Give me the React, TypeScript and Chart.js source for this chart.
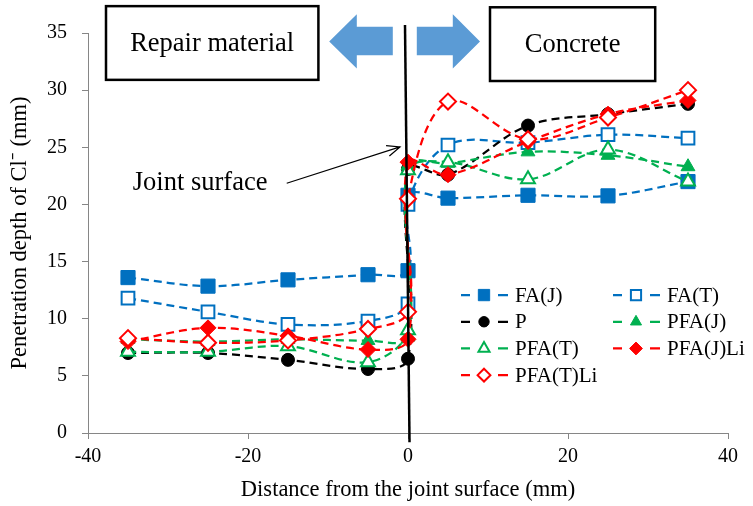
import React, { useEffect, useRef } from 'react';
import { Chart, registerables } from 'chart.js';
import { drawPoint } from 'chart.js/helpers';

Chart.register(...registerables);

// ---------- data ----------
const distances = [-35, -25, -15, -5, 0, 0, 5, 15, 25, 35];
const faJ = [13.6, 12.85, 13.4, 13.85, 14.2, 20.8, 20.55, 20.8, 20.75, 22.0];
const faT = [11.8, 10.6, 9.5, 9.8, 11.3, 20.0, 25.2, 25.4, 26.1, 25.8];
const pSeries = [7.0, 7.0, 6.4, 5.6, 6.5, 23.1, 22.6, 26.9, 27.9, 28.8];
const pfaJ = [8.2, 8.0, 8.2, 8.1, 8.4, 23.4, 23.6, 24.6, 24.3, 23.3];
const pfaT = [7.1, 7.1, 7.6, 6.2, 9.0, 23.0, 23.7, 22.2, 24.8, 22.0];
const pfaJLi = [8.0, 9.2, 8.5, 7.3, 8.2, 23.7, 22.6, 25.5, 27.9, 29.1];
const pfaTLi = [8.3, 7.9, 8.1, 9.1, 10.6, 20.5, 29.0, 25.7, 27.6, 30.0];

const seriesNames = ['FA(J)', 'FA(T)', 'P', 'PFA(J)', 'PFA(T)', 'PFA(J)Li', 'PFA(T)Li'];
const xTicks = [-40, -20, 0, 20, 40];
const yTicks = [0, 5, 10, 15, 20, 25, 30, 35];

const xTitle = 'Distance from the joint surface (mm)';
const yTitle = 'Penetration depth of Cl\u207B (mm)';
const leftBoxText = 'Repair material';
const rightBoxText = 'Concrete';
const jointText = 'Joint surface';

const SERIF = '"Liberation Serif", "Times New Roman", serif';
const BLUE = '#0070C0';
const GREEN = '#00B050';
const RED = '#FF0000';
const BLACK = '#000000';
const ARROW_BLUE = '#5B9BD5';

function makeDataset(label: string, values: number[], color: string, style: string, filled: boolean, radius: number, order: number) {
  return {
    label,
    data: distances.map((x, i) => ({ x, y: values[i] })),
    borderColor: color,
    backgroundColor: filled ? color : '#ffffff',
    pointStyle: style,
    pointRadius: radius,
    pointHoverRadius: radius,
    pointBorderColor: color,
    pointBackgroundColor: filled ? color : '#ffffff',
    pointBorderWidth: filled ? 1 : 2,
    borderWidth: 2.25,
    borderDash: [8, 5],
    tension: 0.35,
    fill: false,
    order,
  };
}

const seriesDefs: [number[], string, string, boolean, number][] = [
  [faJ, BLUE, 'rect', true, 10],
  [faT, BLUE, 'rect', false, 9],
  [pSeries, BLACK, 'circle', true, 6.5],
  [pfaJ, GREEN, 'triangle', true, 8],
  [pfaT, GREEN, 'triangle', false, 8],
  [pfaJLi, RED, 'rectRot', true, 8],
  [pfaTLi, RED, 'rectRot', false, 8],
];

const annotationPlugin = {
  id: 'annotations',
  afterDatasetsDraw(chart: any) {
    const { ctx } = chart;
    const xs = chart.scales.x;
    const ys = chart.scales.y;
    const px = (v: number) => xs.getPixelForValue(v);
    const py = (v: number) => ys.getPixelForValue(v);
    ctx.save();

    // text boxes
    const box = (x0: number, x1: number, y0: number, y1: number, text: string) => {
      ctx.fillStyle = '#ffffff';
      ctx.fillRect(px(x0), py(y0), px(x1) - px(x0), py(y1) - py(y0));
      ctx.strokeStyle = '#000';
      ctx.lineWidth = 2.5;
      ctx.setLineDash([]);
      ctx.strokeRect(px(x0), py(y0), px(x1) - px(x0), py(y1) - py(y0));
      ctx.fillStyle = '#000';
      ctx.font = `26.5px ${SERIF}`;
      ctx.textAlign = 'center';
      ctx.textBaseline = 'middle';
      ctx.fillText(text, (px(x0) + px(x1)) / 2, (py(y0) + py(y1)) / 2 + 1);
    };
    box(-37.75, -11.2, 37.35, 30.9, leftBoxText);
    box(10.25, 30.9, 37.25, 30.8, rightBoxText);

    // blue arrows
    const arrow = (tail: number, base: number, tip: number) => {
      ctx.fillStyle = ARROW_BLUE;
      ctx.beginPath();
      ctx.moveTo(px(tail), py(35.55));
      ctx.lineTo(px(base), py(35.55));
      ctx.lineTo(px(base), py(36.65));
      ctx.lineTo(px(tip), py(34.25));
      ctx.lineTo(px(base), py(31.9));
      ctx.lineTo(px(base), py(33.05));
      ctx.lineTo(px(tail), py(33.05));
      ctx.closePath();
      ctx.fill();
    };
    arrow(-1.9, -6.4, -9.85);
    arrow(1.1, 5.6, 9.0);

    // joint line
    ctx.strokeStyle = '#000';
    ctx.lineWidth = 2.5;
    ctx.beginPath();
    ctx.moveTo(px(-0.375), py(35.7));
    ctx.lineTo(px(0.19), py(-0.8));
    ctx.stroke();

    // joint label arrow
    const sx = px(-15.16), sy = py(21.85), ex = px(-1.0), ey = py(25.03);
    ctx.lineWidth = 1.2;
    ctx.beginPath();
    ctx.moveTo(sx, sy);
    ctx.lineTo(ex, ey);
    const ang = Math.atan2(ey - sy, ex - sx);
    const hl = 14;
    ctx.moveTo(ex - hl * Math.cos(ang - 0.4), ey - hl * Math.sin(ang - 0.4));
    ctx.lineTo(ex, ey);
    ctx.lineTo(ex - hl * Math.cos(ang + 0.4), ey - hl * Math.sin(ang + 0.4));
    ctx.stroke();
    ctx.fillStyle = '#000';
    ctx.font = `26.5px ${SERIF}`;
    ctx.textAlign = 'left';
    ctx.textBaseline = 'middle';
    ctx.fillText(jointText, px(-34.4), py(21.9));
    ctx.restore();
  },
  afterDraw(chart: any) {
    const { ctx } = chart;
    const xs = chart.scales.x;
    const ys = chart.scales.y;
    const x0 = xs.getPixelForValue(6.5);
    const y0 = ys.getPixelForValue(12.07);
    const colW = 152;
    const rowH = 26.7;
    ctx.save();
    chart.data.datasets.forEach((ds: any, i: number) => {
      const col = i % 2;
      const row = Math.floor(i / 2);
      const lx = x0 + col * colW;
      const ly = y0 + row * rowH;
      ctx.strokeStyle = ds.borderColor;
      ctx.lineWidth = 2.25;
      ctx.setLineDash([]);
      ctx.beginPath();
      ctx.moveTo(lx + 1, ly);
      ctx.lineTo(lx + 10, ly);
      ctx.moveTo(lx + 38, ly);
      ctx.lineTo(lx + 48, ly);
      ctx.stroke();
      ctx.fillStyle = ds.pointBackgroundColor;
      ctx.strokeStyle = ds.pointBorderColor;
      ctx.lineWidth = ds.pointBorderWidth;
      drawPoint(ctx, { pointStyle: ds.pointStyle, rotation: 0, radius: ds.pointRadius * 0.8, borderWidth: ds.pointBorderWidth }, lx + 24, ly);
      ctx.fillStyle = '#000';
      ctx.font = `21px ${SERIF}`;
      ctx.textAlign = 'left';
      ctx.textBaseline = 'middle';
      ctx.fillText(ds.label, lx + 55, ly + 1);
    });
    ctx.restore();
  },
};

export default function App() {
  const ref = useRef<HTMLCanvasElement | null>(null);
  useEffect(() => {
    if (!ref.current) return;
    const datasets = seriesDefs.map((d, i) =>
      makeDataset(seriesNames[i], d[0], d[1], d[2], d[3], d[4], seriesDefs.length - i)
    );
    const chart = new Chart(ref.current, {
      type: 'line',
      data: { datasets: datasets as any },
      plugins: [annotationPlugin],
      options: {
        responsive: false,
        animation: false,
        layout: { padding: { left: 0, right: 25, top: 33, bottom: 0 } },
        plugins: { legend: { display: false }, tooltip: { enabled: false } },
        scales: {
          x: {
            type: 'linear',
            min: -40,
            max: 40,
            afterFit: (s: any) => { s.height = 73; },
            afterBuildTicks: (s: any) => { s.ticks = xTicks.map((v) => ({ value: v })); },
            grid: { drawOnChartArea: false, drawTicks: true, tickLength: 6, color: '#868686' },
            border: { color: '#868686', width: 1 },
            ticks: { font: { family: SERIF, size: 20 }, color: '#000', padding: 6, maxRotation: 0 },
            title: { display: true, text: xTitle, font: { family: SERIF, size: 22.5 }, color: '#000', padding: { top: 0, bottom: 2 } },
          },
          y: {
            type: 'linear',
            min: 0,
            max: 35,
            afterFit: (s: any) => { s.width = 88; },
            afterBuildTicks: (s: any) => { s.ticks = yTicks.map((v) => ({ value: v })); },
            grid: { drawOnChartArea: false, drawTicks: true, tickLength: 6, color: '#868686' },
            border: { color: '#868686', width: 1 },
            ticks: { font: { family: SERIF, size: 20 }, color: '#000', padding: 15 },
            title: { display: true, text: yTitle, font: { family: SERIF, size: 22.5 }, color: '#000', padding: { top: 7, bottom: 0 } },
          },
        },
      },
    });
    return () => chart.destroy();
  }, []);
  return (
    <div style={{ position: 'fixed', left: 0, top: 0, width: 753, height: 506, background: '#fff' }}>
      <canvas ref={ref} width={753} height={506} style={{ display: 'block' }} />
    </div>
  );
}
